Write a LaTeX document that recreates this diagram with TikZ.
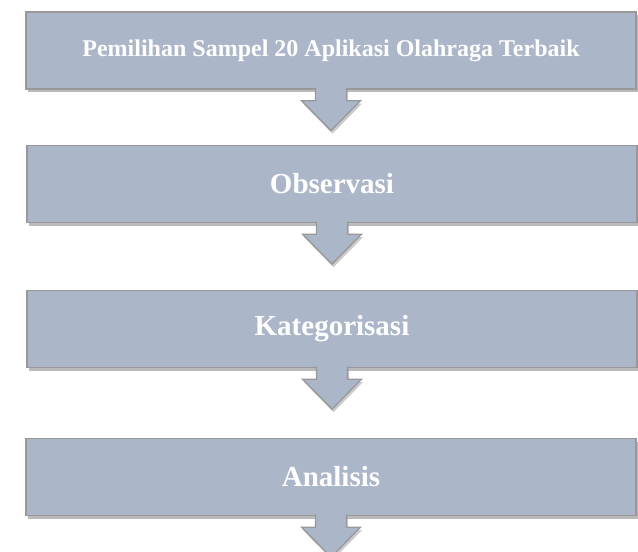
\documentclass[tikz,border=0pt]{standalone}
\usepackage{fontspec}
\setmainfont{Liberation Serif}
\usetikzlibrary{shadows}
\definecolor{boxfill}{RGB}{171,182,200}
\definecolor{boxline}{RGB}{152,152,152}
\newcommand\flowarrow[1]{%
  \draw[blockarrow] ([xshift=-15.5pt,yshift=1.5pt]#1.south) -- ++(0,12.5) -- ++(-14,0)
    -- ++(29.5,30) -- ++(29.5,-30) -- ++(-14,0) -- ++(0,-12.5);}
\begin{document}
\begin{tikzpicture}[x=1pt,y=-1pt,
  stepbox/.style={rectangle, fill=boxfill, draw=boxline, line width=1.3pt,
    minimum width=610pt, minimum height=77pt, inner sep=0pt, text=white,
    font=\bfseries\fontsize{29}{31}\selectfont,
    drop shadow={shadow xshift=1.5pt, shadow yshift=-3pt, opacity=0.45, fill=black!60}},
  blockarrow/.style={fill=boxfill, draw=boxline, line width=1.3pt, line join=miter,
    drop shadow={shadow xshift=1.5pt, shadow yshift=-3pt, opacity=0.35, fill=black!60}}]
\useasboundingbox (0,0) rectangle (638,552);
\node[stepbox, font=\bfseries\fontsize{24}{26}\selectfont] (b1) at (331,50.5) {Pemilihan Sampel 20 Aplikasi Olahraga Terbaik};
\node[stepbox] (b2) at (332,184) {Observasi};
\node[stepbox] (b3) at (332,329) {Kategorisasi};
\node[stepbox] (b4) at (331,477) {Analisis};
\flowarrow{b1}
\flowarrow{b2}
\flowarrow{b3}
\flowarrow{b4}
\end{tikzpicture}
\end{document}
